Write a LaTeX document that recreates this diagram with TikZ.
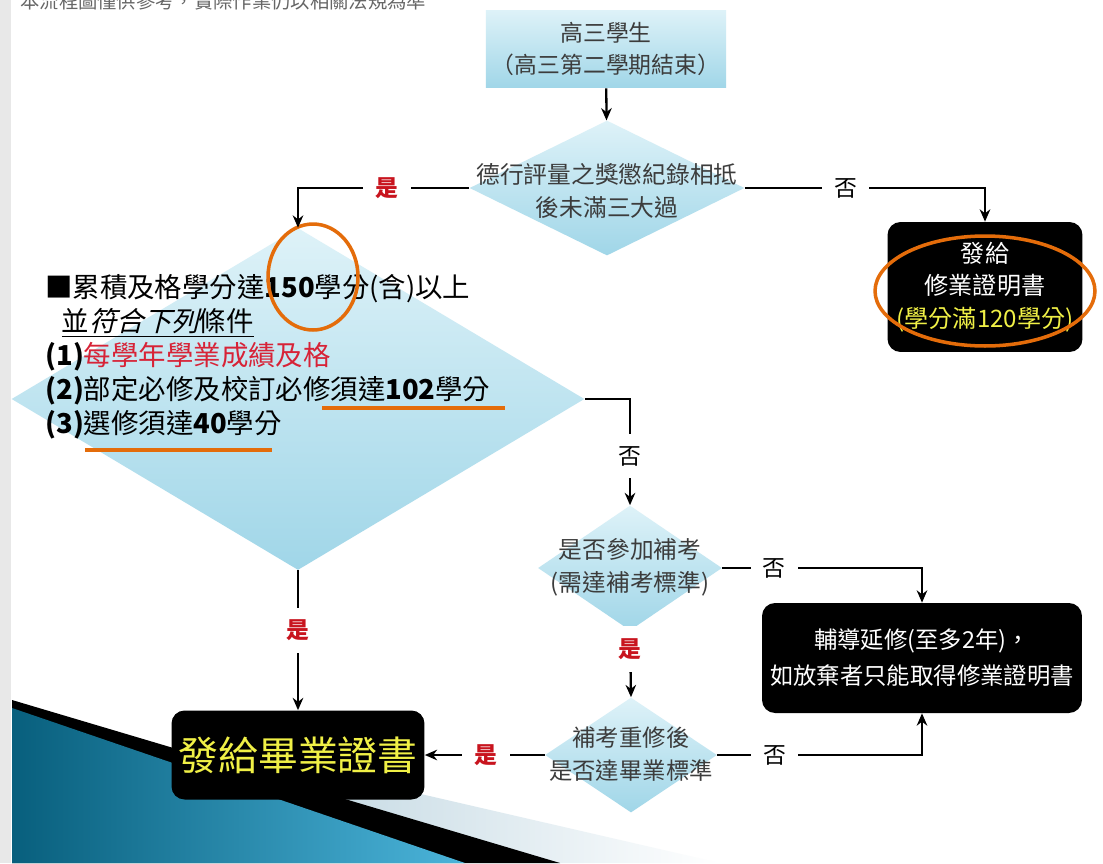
\documentclass[tikz,border=0pt]{standalone}
\usepackage{fontspec}
\setmainfont{Noto Sans CJK TC}[AutoFakeSlant=0.25]
\usetikzlibrary{arrows.meta,shapes.geometric}
\definecolor{markorange}{RGB}{228,108,10}
\definecolor{yesred}{RGB}{200,20,30}
\definecolor{condred}{RGB}{215,35,55}
\definecolor{certyellow}{RGB}{240,240,70}
\definecolor{boxtop}{RGB}{222,242,248}
\definecolor{boxbottom}{RGB}{160,214,232}
\definecolor{darkteal}{RGB}{8,95,125}
\definecolor{lightteal}{RGB}{75,180,218}
\definecolor{paleband}{RGB}{185,210,222}
\definecolor{textgray}{RGB}{60,60,60}

\tikzset{
  cond/.style={diamond,inner sep=0pt,top color=boxtop,bottom color=boxbottom},
  condtext/.style={text=textgray,align=center,font=\fontsize{13.5}{18.8}\selectfont},
  blackbox/.style={rectangle,rounded corners=0.26cm,fill=black,align=center,inner sep=0pt},
  flow/.style={-{Stealth[length=7pt,width=6pt]},line width=1.3pt},
  yes/.style={fill=white,text=yesred,font=\bfseries\fontsize{13}{13}\selectfont,inner sep=7pt},
  no/.style={fill=white,font=\fontsize{13}{13}\selectfont,inner sep=7pt},
}

\begin{document}
\begin{tikzpicture}[x=0.02cm,y=-0.02cm]
\useasboundingbox (0,0) rectangle (1103,863);
\clip (0,0) rectangle (1103,863);
\fill[white] (0,0) rectangle (1103,863);
\fill[gray!18] (0,0) rectangle (11,863);
% decoration bottom left
\shade[left color=paleband,right color=white] (230,750) -- (720,863) -- (480,863) -- cycle;
\fill[black] (12,700) -- (560,863) -- (12,863) -- cycle;
\shade[left color=darkteal,right color=lightteal] (12,708) -- (465,863) -- (12,863) -- cycle;
\node[anchor=south west,inner sep=0pt,text=gray!80!black,font=\fontsize{11}{11}\selectfont] (note) at (20,10) {本流程圖僅供參考，實際作業仍以相關法規為準};

\node[rectangle,top color=boxtop,bottom color=boxbottom,minimum width=4.24cm,minimum height=1.56cm,
  align=center,text=textgray,font=\fontsize{13}{18.5}\selectfont] (start) at (606,49) {高三學生\\（高三第二學期結束）};
\node[cond,minimum width=5.5cm,minimum height=2.7cm] (moral) at (607,188) {};
\node[condtext] (moraltext) at (607,191) {德行評量之獎懲紀錄相抵\\後未滿三大過};
\node[blackbox,minimum width=3.9cm,minimum height=2.6cm,text=white,font=\fontsize{13.7}{18.5}\selectfont] (cert) at (985,287)
  {發給\\修業證明書\\\textcolor{certyellow}{(學分滿120學分)}};
\node[cond,minimum width=11.46cm,minimum height=6.84cm] (credits) at (298,399) {};
\node[anchor=west,align=left,inner sep=0pt,font=\fontsize{15.6}{19.3}\selectfont] (credittext) at (45,357)
  {■累積及格學分達\textbf{150}學分(含)以上\\
   \hspace*{0.6em}\underline{並\textit{符合下列}條件}\\
   \textbf{(1)}\textcolor{condred}{每學年學業成績及格}\\
   \textbf{(2)}部定必修及校訂必修須達\textbf{102}學分\\
   \textbf{(3)}選修須達\textbf{40}學分};
\node[cond,minimum width=3.68cm,minimum height=2.5cm] (retest) at (630,568) {};
\node[condtext] (retesttext) at (630,567) {是否參加補考\\(需達補考標準)};
\node[blackbox,minimum width=6.4cm,minimum height=2.2cm,text=white,font=\fontsize{13.3}{20.5}\selectfont] (extend) at (922,658)
  {輔導延修(至多2年)，\\如放棄者只能取得修業證明書};
\node[cond,minimum width=3.44cm,minimum height=2.3cm] (final) at (631,755) {};
\node[condtext,font=\fontsize{13.3}{18.5}\selectfont] (finaltext) at (631,754) {補考重修後\\是否達畢業標準};
\node[blackbox,minimum width=5.06cm,minimum height=1.78cm,text=certyellow,font=\fontsize{22.7}{22.7}\selectfont] (grad) at (298,755) {發給畢業證書};

% orange marks
\draw[markorange,line width=2pt] (313,277) ellipse [x radius=0.9cm,y radius=1.06cm];
\draw[markorange,line width=2pt] (985,291) ellipse [x radius=2.2cm,y radius=1.1cm];
\draw[markorange,line width=2.2pt] (322,408) -- (505,408);
\draw[markorange,line width=2.2pt] (85,450) -- (272,450);

\draw[flow] (start) -- (moral);
\draw[flow] (moral.west) -| node[yes,pos=0.24] (y1) {是} (credits.north);
\draw[flow] (moral.east) -| node[no,pos=0.21] (n1) {否} (cert.north);
\draw[flow] (credits.east) -| node[no,pos=0.77] (n2) {否} (retest.north);
\draw[flow] (credits.south) -- node[yes,pos=0.43] (y2) {是} (grad.north);
\draw[flow] (retest.east) -| node[no,pos=0.13] (n3) {否} (extend.north);
\draw[flow] (retest.south) -- node[yes,pos=0.27] (y3) {是} (final.north);
\draw[flow] (final.west) -- node[yes,pos=0.49] (y4) {是} (grad.east);
\draw[flow] (final.east) -| node[no,pos=0.14] (n4) {否} (extend.south);
\end{tikzpicture}
\end{document}
